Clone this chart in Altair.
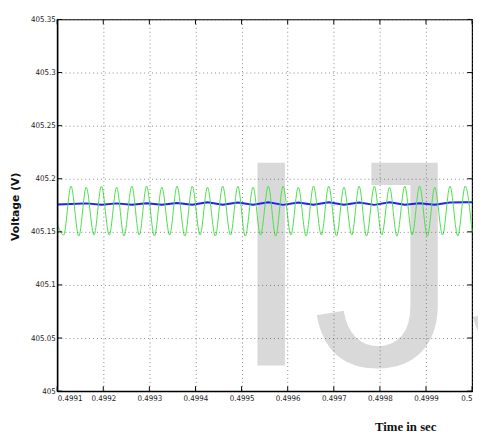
import altair as alt
import pandas as pd

# Green: oscillating voltage (times in s, values in V)
green_t = [0.499100, 0.499114, 0.499130, 0.499147, 0.499163, 0.499180, 0.499196,
           0.499213, 0.499229, 0.499245, 0.499262, 0.499278, 0.499294, 0.499311,
           0.499327, 0.499344, 0.499360, 0.499377, 0.499393, 0.499410, 0.499426,
           0.499443, 0.499459, 0.499476, 0.499492, 0.499508, 0.499525, 0.499541,
           0.499558, 0.499574, 0.499590, 0.499607, 0.499623, 0.499640, 0.499656,
           0.499673, 0.499689, 0.499706, 0.499722, 0.499739, 0.499755, 0.499771,
           0.499788, 0.499804, 0.499821, 0.499837, 0.499854, 0.499870, 0.499886,
           0.499903, 0.499919, 0.499936, 0.499952, 0.499969, 0.499985, 0.500000]
green_v = [405.158, 405.147, 405.193, 405.146, 405.192, 405.147, 405.193,
           405.147, 405.192, 405.146, 405.193, 405.147, 405.193, 405.146,
           405.192, 405.147, 405.193, 405.146, 405.193, 405.147, 405.192,
           405.146, 405.193, 405.147, 405.193, 405.146, 405.192, 405.147,
           405.193, 405.146, 405.193, 405.147, 405.192, 405.146, 405.193,
           405.147, 405.193, 405.146, 405.192, 405.147, 405.193, 405.146,
           405.193, 405.147, 405.192, 405.146, 405.193, 405.147, 405.193,
           405.146, 405.192, 405.147, 405.193, 405.146, 405.193, 405.150]

# Blue: averaged voltage
blue_t = [0.499100, 0.499130, 0.499163, 0.499196, 0.499229, 0.499262, 0.499294,
          0.499327, 0.499360, 0.499393, 0.499426, 0.499459, 0.499492, 0.499525,
          0.499558, 0.499590, 0.499623, 0.499656, 0.499689, 0.499722, 0.499755,
          0.499788, 0.499821, 0.499854, 0.499886, 0.499919, 0.499952, 0.499985,
          0.500000]
blue_v = [405.1758, 405.1762, 405.1768, 405.1755, 405.1768, 405.1756, 405.1770,
          405.1755, 405.1772, 405.1756, 405.1778, 405.1756, 405.1776, 405.1755,
          405.1778, 405.1754, 405.1777, 405.1755, 405.1778, 405.1755, 405.1777,
          405.1754, 405.1778, 405.1755, 405.1770, 405.1756, 405.1776, 405.1778,
          405.1778]

x_ticks = [0.4991, 0.4992, 0.4993, 0.4994, 0.4995, 0.4996, 0.4997, 0.4998, 0.4999, 0.5]
y_ticks = [405.0, 405.05, 405.1, 405.15, 405.2, 405.25, 405.3, 405.35]

W, H = 422, 378

green = pd.DataFrame({"t": green_t, "v": green_v})
blue = pd.DataFrame({"t": blue_t, "v": blue_v})
xt = pd.DataFrame({"t": x_ticks})
yt = pd.DataFrame({"v": y_ticks})

xs = alt.Scale(domain=[0.4991, 0.5], nice=False, zero=False)
ys = alt.Scale(domain=[405.0, 405.35], nice=False, zero=False)

lab_font = "DejaVu Sans Condensed, Liberation Sans"

xaxis = alt.Axis(values=x_ticks, format=".4~f", title="Time in sec",
                 titleFont="Liberation Serif", titleFontSize=13, titleFontWeight="bold",
                 titleColor="#111", titleX=354, titleY=30, titleAlign="center",
                 labelFont=lab_font, labelFontSize=8, labelColor="#222",
                 labelPadding=4, tickSize=0, domainColor="#000", domainWidth=1.5,
                 grid=True, gridColor="#555", gridDash=[1, 3], gridOpacity=0.7,
                 labelOverlap=False, zindex=1)
yaxis = alt.Axis(values=y_ticks, format=".2~f", title="Voltage (V)",
                 titleFont="DejaVu Sans", titleFontSize=11, titleFontWeight="bold",
                 titleColor="#111", titleX=-42, titleY=190, titleAlign="center",
                 titleBaseline="middle", titleAngle=-90,
                 labelFont=lab_font, labelFontSize=8, labelColor="#222",
                 labelPadding=2, tickSize=0, domainColor="#000", domainWidth=1.5,
                 grid=True, gridColor="#555", gridDash=[1, 3], gridOpacity=0.7,
                 labelOverlap=False, zindex=1)

watermark = alt.Chart(pd.DataFrame({"s": ["IJS"]})).mark_text(
    align="left", baseline="alphabetic", font="Liberation Sans",
    fontSize=300, color="#d9d9d9"
).encode(text="s:N", x=alt.value(176), y=alt.value(352))

blue_line = alt.Chart(blue).mark_line(color="#1f1fff", strokeWidth=2).encode(
    x=alt.X("t:Q", scale=xs, axis=xaxis),
    y=alt.Y("v:Q", scale=ys, axis=yaxis),
)
green_line = alt.Chart(green).mark_line(color="#47e047", strokeWidth=1,
                                        interpolate="monotone").encode(
    x=alt.X("t:Q", scale=xs), y=alt.Y("v:Q", scale=ys))

tick_bottom = alt.Chart(xt).mark_rule(color="#000").encode(
    x=alt.X("t:Q", scale=xs), y=alt.value(H), y2=alt.value(H - 5))
tick_top = alt.Chart(xt).mark_rule(color="#000").encode(
    x=alt.X("t:Q", scale=xs), y=alt.value(0), y2=alt.value(5))
tick_left = alt.Chart(yt).mark_rule(color="#000").encode(
    y=alt.Y("v:Q", scale=ys), x=alt.value(0), x2=alt.value(5))
tick_right = alt.Chart(yt).mark_rule(color="#000").encode(
    y=alt.Y("v:Q", scale=ys), x=alt.value(W), x2=alt.value(W - 5))

chart = alt.layer(watermark, blue_line, green_line,
                  tick_bottom, tick_top, tick_left, tick_right).properties(
    width=W, height=H, autosize="none",
    padding={"left": 50, "top": 8, "right": 6, "bottom": 44},
    background="white",
).configure_view(stroke="#000", strokeWidth=1.2)

chart.save("out.html", embed_options={"renderer": "svg", "actions": False})
